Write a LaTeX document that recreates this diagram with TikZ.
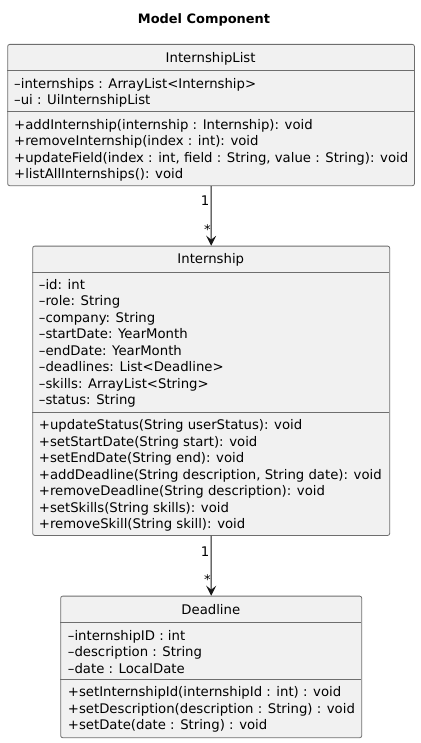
\documentclass[tikz,border=0pt]{standalone}
\usepackage{fontspec}
\setmainfont{DejaVu Sans}
\usetikzlibrary{arrows.meta}
\definecolor{boxfill}{HTML}{F1F1F1}
\definecolor{boxline}{HTML}{6E6E6E}
\definecolor{inkline}{HTML}{181818}
\tikzset{
  classbox/.style={draw=boxline, fill=boxfill, line width=0.8bp, rounded corners=2bp, anchor=north west, inner sep=0pt},
  sepline/.style={draw=boxline, line width=0.8bp},
  member/.style={anchor=base west, inner sep=0pt, align=left, font=\fontsize{13.3}{16.55}\selectfont},
  head/.style={anchor=base, inner sep=0pt, font=\fontsize{13.3}{16.55}\selectfont},
  assoc/.style={draw=inkline, line width=1bp, -{Stealth[length=10bp,width=10bp,inset=4bp]}},
  mult/.style={inner sep=0pt, font=\fontsize{13.3}{16}\selectfont}
}
\begin{document}
\begin{tikzpicture}[x=1bp,y=-1bp]
\useasboundingbox[fill=white] (0,0) rectangle (420,743);

\node[anchor=base, inner sep=0pt, font=\bfseries\fontsize{13}{16}\selectfont] (title) at (204,23.3) {Model Component};

% InternshipList  (member nodes are anchored at the baseline of their last line)
\node[classbox, minimum width=406.7bp, minimum height=141.3bp] (list) at (7.3,44) {};
\draw[sepline] (7.3,70.3) -- (414,70.3);
\draw[sepline] (7.3,111.7) -- (414,111.7);
\node[head] (listname) at (210.65,62.7) {InternshipList};
\node[member] (listattr) at (14,104.85) {–internships : ArrayList<Internship>\\–ui : UiInternshipList};
\node[member] (listops) at (14,178.65) {+addInternship(internship : Internship): void\\+removeInternship(index : int): void\\+updateField(index : int, field : String, value : String): void\\+listAllInternships(): void};

% Internship
\node[classbox, minimum width=357bp, minimum height=289.3bp] (intern) at (32.3,245.7) {};
\draw[sepline] (32.3,272.3) -- (389.3,272.3);
\draw[sepline] (32.3,412.7) -- (389.3,412.7);
\node[head] (internname) at (210.8,263.3) {Internship};
\node[member] (internattr) at (38.7,404.85) {–id: int\\–role: String\\–company: String\\–startDate: YearMonth\\–endDate: YearMonth\\–deadlines: List<Deadline>\\–skills: ArrayList<String>\\–status: String};
\node[member] (internops) at (38.7,528.6) {+updateStatus(String userStatus): void\\+setStartDate(String start): void\\+setEndDate(String end): void\\+addDeadline(String description, String date): void\\+removeDeadline(String description): void\\+setSkills(String skills): void\\+removeSkill(String skill): void};

% Deadline
\node[classbox, minimum width=301bp, minimum height=141.6bp] (dead) at (60.3,595.7) {};
\draw[sepline] (60.3,622.3) -- (361.3,622.3);
\draw[sepline] (60.3,679.7) -- (361.3,679.7);
\node[head] (deadname) at (210.8,614) {Deadline};
\node[member] (deadattr) at (67.7,673.1) {–internshipID : int\\–description : String\\–date : LocalDate};
\node[member] (deadops) at (67.7,729.8) {+setInternshipId(internshipId : int) : void\\+setDescription(description : String) : void\\+setDate(date : String) : void};

% associations
\draw[assoc] (list.south) -- (intern.north);
\node[mult, anchor=east] (m1a) at (209.6,201) {1};
\node[mult] (m1b) at (207.5,229.5) {*};
\draw[assoc] (intern.south) -- (dead.north);
\node[mult, anchor=east] (m2a) at (209.6,551.7) {1};
\node[mult] (m2b) at (207.5,579.8) {*};
\end{tikzpicture}
\end{document}
